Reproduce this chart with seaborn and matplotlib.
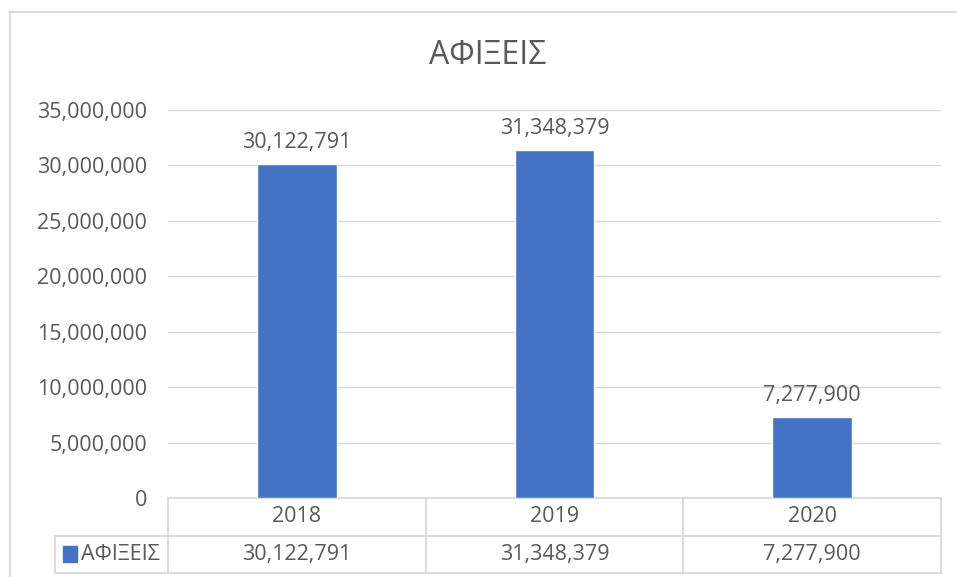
import matplotlib
matplotlib.use("Agg")
import matplotlib.pyplot as plt
import matplotlib.transforms as mtransforms
from matplotlib.patches import Rectangle
from matplotlib.lines import Line2D
import seaborn as sns
import pandas as pd

title = "ΑΦΙΞΕΙΣ"
series_name = "ΑΦΙΞΕΙΣ"
years = ["2018", "2019", "2020"]
values = [30122791, 31348379, 7277900]
yticks = [0, 5000000, 10000000, 15000000, 20000000, 25000000, 30000000, 35000000]

sns.set_theme(style="white")
plt.rcParams['font.family'] = ['Open Sans', 'DejaVu Sans']

W, H = 957, 577
fig = plt.figure(figsize=(W / 100, H / 100), dpi=100)
fig.patch.set_facecolor("white")

def fx(px):
    return px / W

def fy(py):
    return 1 - py / H

FS = 15.5
left, right, top, bottom = 168, 941, 110, 498
ax = fig.add_axes([fx(left), fy(bottom), fx(right - left), (bottom - top) / H])

df = pd.DataFrame({"year": years, "value": values})
BLUE = "#4472C4"
TXT = "#595959"
GRID = "#D9D9D9"

sns.barplot(data=df, x="year", y="value", color=BLUE, width=0.31, ax=ax,
            saturation=1, zorder=3)
ax.set_xlim(-0.5, 2.5)
ax.set_ylim(0, 35000000)
ax.set_yticks(yticks)
ax.set_yticklabels([f"{v:,}" for v in yticks], color=TXT, fontsize=FS)
ax.tick_params(axis="y", length=0, pad=15)
ax.set_xticks([])
ax.set_xlabel("")
ax.set_ylabel("")
ax.grid(axis="y", color=GRID, linewidth=1, zorder=0)
for s in ["top", "right", "left"]:
    ax.spines[s].set_visible(False)
ax.spines["bottom"].set_color(GRID)
ax.spines["bottom"].set_linewidth(1.3)

for i, v in enumerate(values):
    ax.annotate(f"{v:,}", (i, v), xytext=(0, 8), textcoords="offset points",
                ha="center", va="bottom", fontsize=FS, color=TXT)

fig.text(fx(488), fy(55), title, ha="center", va="center", fontsize=23, color=TXT)

# data table
lw = 1.3
def hline(y, x0, x1):
    fig.add_artist(Line2D([fx(x0), fx(x1)], [fy(y), fy(y)], color=GRID, lw=lw))

def vline(x, y0, y1):
    fig.add_artist(Line2D([fx(x), fx(x)], [fy(y0), fy(y1)], color=GRID, lw=lw))

row1, row2 = 536, 573
hline(row1, 55, right)
hline(row2, 55, right)
vline(55, row1, row2)
vline(left, bottom, row2)
colw = (right - left) / len(years)
for k in range(1, len(years)):
    vline(left + k * colw, bottom, row2)
vline(right, bottom, row2)

blend = mtransforms.blended_transform_factory(ax.transData, fig.transFigure)
for i, (yr, v) in enumerate(zip(years, values)):
    ax.text(i, fy((bottom + row1) / 2), yr, transform=blend, ha="center",
            va="center", fontsize=FS, color=TXT)
    ax.text(i, fy((row1 + row2) / 2), f"{v:,}", transform=blend, ha="center",
            va="center", fontsize=FS, color=TXT)

fig.add_artist(Rectangle((fx(63), fy(562)), fx(14), 16 / H, color=BLUE,
                         transform=fig.transFigure))
fig.text(fx(81), fy((row1 + row2) / 2), series_name, ha="left", va="center",
         fontsize=FS, color=TXT)

# chart outer border
fig.add_artist(Line2D([fx(9), fx(957)], [fy(11.5), fy(11.5)], color=GRID, lw=1.3))
fig.add_artist(Line2D([fx(9.5), fx(9.5)], [fy(11), fy(577)], color=GRID, lw=1.3))

fig.savefig("out.png", dpi=100, facecolor="white")
